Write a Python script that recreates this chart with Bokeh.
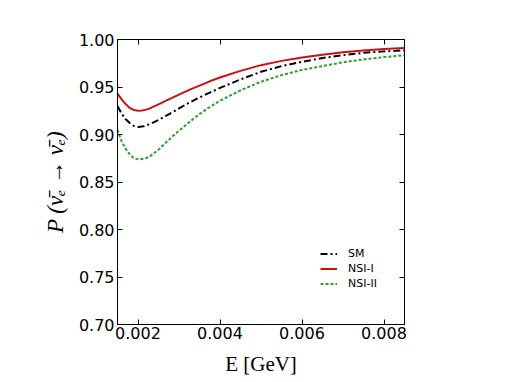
from bokeh.plotting import figure
from bokeh.models import (ColumnDataSource, LinearAxis, FixedTicker, NumeralTickFormatter,
                          Range1d, Legend, LegendItem)
from bokeh.embed import file_html
from bokeh.resources import INLINE

# Energy (GeV)
energy = [0.0015, 0.0016, 0.0017, 0.0018, 0.0019, 0.0020, 0.0021, 0.0022, 0.0023,
          0.0025, 0.00275, 0.0030, 0.00325, 0.0035, 0.00375, 0.0040, 0.0045,
          0.0050, 0.0055, 0.0060, 0.0065, 0.0070, 0.0075, 0.0080, 0.0085]
# Survival probabilities
p_sm = [0.930, 0.922, 0.916, 0.912, 0.909, 0.908, 0.9083, 0.9095, 0.9112,
        0.9153, 0.9213, 0.9275, 0.9335, 0.9390, 0.9440, 0.9490, 0.9580,
        0.9660, 0.9720, 0.9765, 0.9805, 0.9835, 0.9860, 0.9875, 0.9885]
p_nsi1 = [0.943, 0.937, 0.932, 0.928, 0.9258, 0.925, 0.9253, 0.9262, 0.9277,
          0.9318, 0.9370, 0.9420, 0.9470, 0.9515, 0.9560, 0.9600, 0.9670,
          0.9730, 0.9775, 0.9810, 0.9840, 0.9865, 0.9885, 0.9900, 0.9910]
p_nsi2 = [0.905, 0.893, 0.885, 0.879, 0.875, 0.874, 0.8742, 0.8752, 0.8772,
          0.8840, 0.8943, 0.9040, 0.9130, 0.9215, 0.9290, 0.9355, 0.9465,
          0.9555, 0.9625, 0.9680, 0.9720, 0.9760, 0.9790, 0.9815, 0.9835]

x_ticks = [0.002, 0.004, 0.006, 0.008]
y_ticks = [0.70, 0.75, 0.80, 0.85, 0.90, 0.95, 1.00]
series_names = ["SM", "NSI-I", "NSI-II"]

src = ColumnDataSource(dict(e=energy, sm=p_sm, n1=p_nsi1, n2=p_nsi2))

p = figure(width=500, height=382, output_backend="svg", toolbar_location=None,
           x_range=Range1d(0.0015, 0.0085), y_range=Range1d(0.70, 1.00),
           min_border_left=117, min_border_top=39, min_border_right=96,
           min_border_bottom=58, x_axis_location=None, y_axis_location=None)
p.background_fill_color = "white"
p.border_fill_color = "white"
p.outline_line_color = "black"
p.outline_line_width = 1
p.xgrid.visible = False
p.ygrid.visible = False

tick_font = "DejaVu Sans"

def style(ax, labels=True):
    ax.major_tick_in = 5
    ax.major_tick_out = 0
    ax.minor_tick_line_color = None
    ax.axis_line_color = "black"
    ax.major_tick_line_color = "black"
    ax.major_label_text_font = tick_font
    ax.major_label_text_font_size = "16px"
    ax.major_label_text_color = "black"
    ax.axis_label_text_color = "black"
    if not labels:
        ax.major_label_text_font_size = "0px"
        ax.major_label_text_color = None

xb = LinearAxis(ticker=FixedTicker(ticks=x_ticks), formatter=NumeralTickFormatter(format="0.000"),
                axis_label="E [GeV]")
style(xb)
xb.major_label_standoff = 2
xb.axis_label_text_font = "Liberation Serif"
xb.axis_label_text_font_style = "normal"
xb.axis_label_text_font_size = "21px"
xb.axis_label_standoff = 10
p.add_layout(xb, "below")
xt = LinearAxis(ticker=FixedTicker(ticks=x_ticks))
style(xt, labels=False)
p.add_layout(xt, "above")

yl = LinearAxis(ticker=FixedTicker(ticks=y_ticks), formatter=NumeralTickFormatter(format="0.00"),
                axis_label="P (ν̄ₑ → ν̄ₑ)")
style(yl)
yl.major_label_standoff = 3
yl.axis_label_text_font = "Liberation Serif"
yl.axis_label_text_font_style = "italic"
yl.axis_label_text_font_size = "23px"
yl.axis_label_standoff = 8
p.add_layout(yl, "left")
yr = LinearAxis(ticker=FixedTicker(ticks=y_ticks))
style(yr, labels=False)
p.add_layout(yr, "right")

r_sm = p.line("e", "sm", source=src, line_color="black", line_width=2, line_dash="7 3 2 3")
r_n1 = p.line("e", "n1", source=src, line_color="#cc1111", line_width=2)
r_n2 = p.line("e", "n2", source=src, line_color="#2e9e2e", line_width=2, line_dash="3 2")

leg = Legend(items=[LegendItem(label=series_names[0], renderers=[r_sm]),
                    LegendItem(label=series_names[1], renderers=[r_n1]),
                    LegendItem(label=series_names[2], renderers=[r_n2])],
             location=(203, 33), padding=0, margin=0, spacing=0,
             glyph_width=17, glyph_height=15, label_height=15, label_standoff=11,
             label_text_font=tick_font, label_text_font_size="11px",
             label_text_color="black",
             background_fill_alpha=0, border_line_color=None)
p.add_layout(leg, "center")

open("out.html", "w").write(file_html(p, INLINE))
